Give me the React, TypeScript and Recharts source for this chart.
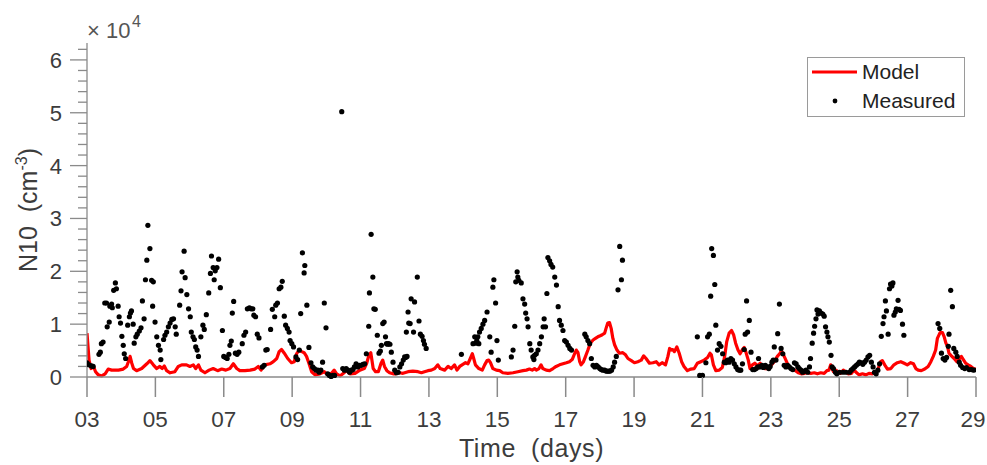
import React from 'react';
import { ComposedChart, Line, Scatter, XAxis, YAxis, Legend } from 'recharts';

// x: day of month, y: N10 in units of 10^4 cm^-3
const dayTicks = [3, 5, 7, 9, 11, 13, 15, 17, 19, 21, 23, 25, 27, 29];
const n10Ticks = [
  0, 0.2, 0.4, 0.6, 0.8, 1, 1.2, 1.4, 1.6, 1.8, 2, 2.2, 2.4, 2.6, 2.8, 3, 3.2,
  3.4, 3.6, 3.8, 4, 4.2, 4.4, 4.6, 4.8, 5, 5.2, 5.4, 5.6, 5.8, 6, 6.2,
];

const modelSeries: [number, number][] = [
  [3.0, 0.83], [3.06, 0.32], [3.12, 0.16], [3.19, 0.2], [3.25, 0.1], [3.33, 0.04], [3.43, 0.02], [3.53, 0.06],
  [3.62, 0.15], [3.72, 0.13], [3.92, 0.13], [4.06, 0.15], [4.16, 0.2], [4.21, 0.29], [4.26, 0.39], [4.31, 0.26],
  [4.36, 0.16], [4.45, 0.12], [4.6, 0.16], [4.75, 0.25], [4.84, 0.31], [4.94, 0.23], [5.04, 0.16], [5.13, 0.2],
  [5.2, 0.16], [5.26, 0.21], [5.33, 0.12], [5.43, 0.08], [5.57, 0.1], [5.67, 0.2], [5.77, 0.23], [5.91, 0.23],
  [6.01, 0.2], [6.11, 0.23], [6.18, 0.16], [6.26, 0.23], [6.33, 0.13], [6.45, 0.08], [6.57, 0.13], [6.69, 0.16],
  [6.82, 0.12], [6.94, 0.15], [7.06, 0.13], [7.18, 0.16], [7.28, 0.25], [7.38, 0.16], [7.47, 0.12], [7.62, 0.12],
  [7.77, 0.13], [7.91, 0.15], [8.01, 0.2], [8.09, 0.13], [8.2, 0.23], [8.35, 0.25], [8.45, 0.29], [8.55, 0.35],
  [8.62, 0.48], [8.69, 0.52], [8.77, 0.45], [8.87, 0.35], [8.98, 0.27], [9.06, 0.29], [9.13, 0.44], [9.2, 0.51],
  [9.28, 0.48], [9.35, 0.46], [9.42, 0.39], [9.49, 0.26], [9.57, 0.1], [9.67, 0.04], [9.81, 0.06], [9.94, 0.1],
  [10.04, 0.04], [10.15, 0.07], [10.23, 0.13], [10.3, 0.06], [10.4, 0.02], [10.5, 0.07], [10.59, 0.12], [10.69, 0.06],
  [10.84, 0.07], [10.98, 0.13], [11.11, 0.16], [11.18, 0.26], [11.25, 0.42], [11.3, 0.46], [11.37, 0.16], [11.44, 0.1],
  [11.52, 0.1], [11.6, 0.26], [11.65, 0.32], [11.7, 0.2], [11.77, 0.12], [11.85, 0.08], [11.95, 0.06], [12.04, 0.06],
  [12.14, 0.08], [12.24, 0.07], [12.39, 0.1], [12.53, 0.11], [12.68, 0.1], [12.78, 0.08], [12.87, 0.1], [12.97, 0.12],
  [13.07, 0.13], [13.17, 0.16], [13.26, 0.23], [13.33, 0.16], [13.46, 0.13], [13.56, 0.2], [13.65, 0.16], [13.75, 0.23],
  [13.82, 0.13], [13.9, 0.2], [13.97, 0.23], [14.07, 0.27], [14.14, 0.25], [14.21, 0.35], [14.27, 0.44], [14.31, 0.35],
  [14.36, 0.23], [14.46, 0.16], [14.56, 0.13], [14.63, 0.23], [14.7, 0.31], [14.75, 0.32], [14.8, 0.27], [14.87, 0.16],
  [14.97, 0.13], [15.07, 0.12], [15.16, 0.08], [15.31, 0.07], [15.46, 0.08], [15.6, 0.1], [15.75, 0.12], [15.85, 0.13],
  [15.94, 0.15], [16.02, 0.13], [16.09, 0.16], [16.14, 0.13], [16.22, 0.16], [16.28, 0.23], [16.33, 0.16], [16.43, 0.13],
  [16.53, 0.12], [16.63, 0.16], [16.72, 0.2], [16.82, 0.23], [16.92, 0.25], [17.02, 0.27], [17.11, 0.29], [17.19, 0.33],
  [17.26, 0.44], [17.31, 0.51], [17.36, 0.46], [17.41, 0.29], [17.45, 0.23], [17.52, 0.29], [17.58, 0.39], [17.65, 0.51],
  [17.72, 0.64], [17.8, 0.7], [17.87, 0.73], [17.94, 0.76], [18.01, 0.78], [18.07, 0.8], [18.14, 0.83], [18.18, 0.92],
  [18.23, 1.02], [18.28, 1.03], [18.33, 0.92], [18.38, 0.73], [18.43, 0.61], [18.5, 0.51], [18.57, 0.45], [18.67, 0.46],
  [18.75, 0.42], [18.82, 0.35], [18.92, 0.31], [19.01, 0.27], [19.11, 0.29], [19.21, 0.32], [19.28, 0.4], [19.35, 0.35],
  [19.45, 0.26], [19.55, 0.27], [19.65, 0.29], [19.73, 0.23], [19.82, 0.27], [19.92, 0.23], [19.99, 0.39], [20.04, 0.54],
  [20.09, 0.51], [20.13, 0.52], [20.18, 0.48], [20.25, 0.57], [20.32, 0.45], [20.39, 0.29], [20.46, 0.2], [20.56, 0.12],
  [20.66, 0.15], [20.76, 0.16], [20.85, 0.26], [20.95, 0.29], [21.05, 0.32], [21.15, 0.37], [21.22, 0.45], [21.26, 0.42],
  [21.32, 0.23], [21.39, 0.12], [21.49, 0.13], [21.58, 0.18], [21.65, 0.39], [21.71, 0.67], [21.78, 0.83], [21.85, 0.88],
  [21.91, 0.8], [21.97, 0.64], [22.04, 0.51], [22.1, 0.44], [22.17, 0.52], [22.22, 0.56], [22.27, 0.47], [22.34, 0.32],
  [22.39, 0.16], [22.46, 0.23], [22.53, 0.26], [22.61, 0.21], [22.69, 0.26], [22.75, 0.2], [22.82, 0.16], [22.9, 0.16],
  [22.99, 0.21], [23.1, 0.29], [23.19, 0.39], [23.27, 0.45], [23.31, 0.5], [23.37, 0.42], [23.44, 0.32], [23.5, 0.23],
  [23.6, 0.16], [23.7, 0.13], [23.8, 0.08], [23.89, 0.06], [23.99, 0.07], [24.07, 0.08], [24.17, 0.07], [24.27, 0.08],
  [24.36, 0.06], [24.46, 0.08], [24.56, 0.07], [24.64, 0.12], [24.7, 0.13], [24.75, 0.23], [24.83, 0.1], [24.9, 0.13],
  [24.97, 0.1], [25.04, 0.07], [25.12, 0.13], [25.19, 0.1], [25.26, 0.06], [25.36, 0.07], [25.43, 0.13], [25.51, 0.08],
  [25.58, 0.04], [25.68, 0.06], [25.78, 0.04], [25.87, 0.07], [25.97, 0.06], [26.07, 0.08], [26.14, 0.16], [26.21, 0.29],
  [26.26, 0.31], [26.33, 0.23], [26.41, 0.15], [26.51, 0.16], [26.6, 0.23], [26.7, 0.27], [26.8, 0.29], [26.9, 0.26],
  [26.99, 0.23], [27.09, 0.27], [27.17, 0.25], [27.24, 0.16], [27.31, 0.13], [27.4, 0.12], [27.5, 0.15], [27.6, 0.2],
  [27.68, 0.29], [27.75, 0.39], [27.82, 0.51], [27.87, 0.73], [27.95, 0.84], [28.02, 0.84], [28.07, 0.76], [28.12, 0.64],
  [28.17, 0.57], [28.21, 0.45], [28.28, 0.4], [28.36, 0.35], [28.44, 0.29], [28.5, 0.33], [28.57, 0.39], [28.63, 0.33],
  [28.7, 0.26], [28.77, 0.23], [28.85, 0.2], [28.92, 0.16], [28.99, 0.15],
];

const measuredSeries: [number, number][] = [
  [3.0, 0.27], [3.06, 0.23], [3.13, 0.21], [3.18, 0.2], [3.35, 0.43], [3.39, 0.47], [3.42, 0.63], [3.47, 0.66],
  [3.52, 1.4], [3.57, 1.4], [3.59, 0.95], [3.65, 1.04], [3.67, 1.34], [3.72, 1.38], [3.74, 1.31], [3.78, 1.64],
  [3.83, 1.78], [3.86, 1.67], [3.91, 1.34], [3.94, 1.14], [3.98, 1.02], [4.02, 0.77], [4.06, 0.6], [4.09, 0.44],
  [4.13, 0.35], [4.19, 0.98], [4.24, 1.14], [4.27, 1.21], [4.3, 1.25], [4.35, 1.0], [4.38, 0.64], [4.43, 0.76],
  [4.47, 0.81], [4.53, 0.87], [4.58, 0.93], [4.62, 1.44], [4.67, 1.1], [4.71, 1.84], [4.75, 2.21], [4.78, 2.87],
  [4.84, 2.43], [4.89, 1.83], [4.94, 1.8], [4.92, 1.34], [4.99, 1.04], [5.04, 0.76], [5.09, 0.6], [5.14, 0.51],
  [5.16, 0.33], [5.24, 0.71], [5.28, 0.79], [5.33, 0.85], [5.38, 0.95], [5.43, 1.02], [5.48, 1.09], [5.53, 1.1],
  [5.58, 0.95], [5.61, 0.81], [5.71, 1.36], [5.75, 1.63], [5.78, 1.99], [5.84, 2.38], [5.87, 1.88], [5.92, 1.56],
  [5.97, 1.29], [6.02, 1.14], [6.05, 0.85], [6.1, 0.76], [6.14, 0.71], [6.18, 0.57], [6.22, 0.51], [6.26, 0.39],
  [6.33, 0.76], [6.39, 0.98], [6.43, 0.9], [6.49, 1.18], [6.56, 1.59], [6.61, 1.96], [6.64, 2.29], [6.69, 2.07],
  [6.72, 1.84], [6.75, 2.01], [6.8, 2.07], [6.85, 2.23], [6.9, 1.69], [6.96, 0.88], [7.0, 0.39], [7.05, 0.37],
  [7.1, 0.35], [7.15, 0.43], [7.18, 0.6], [7.22, 0.68], [7.25, 1.21], [7.29, 1.43], [7.34, 0.45], [7.39, 0.43],
  [7.44, 0.47], [7.54, 0.63], [7.59, 0.79], [7.64, 0.85], [7.69, 1.29], [7.75, 1.31], [7.8, 1.29], [7.85, 1.29],
  [7.88, 1.17], [7.93, 1.14], [7.98, 0.81], [8.03, 0.74], [8.13, 0.19], [8.18, 0.22], [8.23, 0.51], [8.27, 0.52],
  [8.37, 0.9], [8.42, 1.28], [8.49, 1.14], [8.52, 1.36], [8.57, 1.4], [8.62, 1.67], [8.67, 1.7], [8.71, 1.81],
  [8.77, 1.15], [8.81, 0.98], [8.86, 0.92], [8.91, 0.85], [8.94, 0.69], [8.99, 0.63], [9.04, 0.57], [9.11, 0.38],
  [9.16, 0.33], [9.21, 0.51], [9.25, 1.2], [9.3, 2.35], [9.37, 2.11], [9.35, 1.97], [9.43, 1.36], [9.49, 0.56],
  [9.55, 0.27], [9.6, 0.19], [9.65, 0.16], [9.7, 0.13], [9.75, 0.13], [9.79, 0.09], [9.84, 0.13], [9.89, 0.28],
  [9.94, 1.4], [9.99, 0.93], [10.04, 0.06], [10.09, 0.03], [10.14, 0.01], [10.19, 0.03], [10.24, 0.03], [10.45, 5.02],
  [10.48, 0.16], [10.53, 0.13], [10.58, 0.16], [10.63, 0.13], [10.68, 0.09], [10.73, 0.13], [10.78, 0.14], [10.82, 0.19],
  [10.87, 0.25], [10.92, 0.19], [10.97, 0.22], [11.02, 0.22], [11.07, 0.24], [11.12, 0.25], [11.17, 0.44], [11.24, 0.96],
  [11.26, 1.59], [11.31, 2.7], [11.36, 1.89], [11.39, 1.29], [11.43, 1.28], [11.49, 0.79], [11.54, 0.45], [11.58, 0.49],
  [11.61, 0.6], [11.65, 1.01], [11.69, 1.04], [11.73, 0.76], [11.76, 0.63], [11.79, 0.62], [11.82, 0.63], [11.86, 0.62],
  [11.9, 0.47], [11.95, 0.28], [12.0, 0.13], [12.05, 0.08], [12.1, 0.09], [12.15, 0.19], [12.2, 0.25], [12.25, 0.32],
  [12.29, 0.38], [12.32, 0.37], [12.36, 0.39], [12.34, 0.85], [12.39, 1.23], [12.41, 1.02], [12.45, 1.01], [12.48, 1.48],
  [12.55, 0.85], [12.58, 1.42], [12.66, 1.89], [12.71, 1.06], [12.75, 0.81], [12.8, 0.77], [12.84, 0.69], [12.87, 0.62],
  [12.92, 0.54], [13.95, 0.43], [14.29, 0.63], [14.34, 0.76], [14.37, 0.64], [14.4, 0.69], [14.43, 0.76], [14.46, 0.63],
  [14.48, 0.85], [14.53, 0.92], [14.58, 1.0], [14.63, 1.07], [14.7, 1.23], [14.78, 0.76], [14.82, 0.47], [14.87, 1.7],
  [14.9, 1.84], [14.95, 1.4], [14.99, 0.69], [15.03, 0.32], [15.41, 0.38], [15.46, 0.51], [15.51, 0.96], [15.54, 1.8],
  [15.58, 1.99], [15.6, 1.89], [15.63, 1.83], [15.7, 1.78], [15.75, 1.48], [15.8, 1.38], [15.83, 1.21], [15.87, 1.1],
  [15.9, 0.95], [15.95, 0.63], [15.99, 0.51], [16.04, 0.38], [16.07, 0.33], [16.09, 0.41], [16.14, 0.44], [16.19, 0.51],
  [16.24, 0.63], [16.29, 0.76], [16.34, 0.95], [16.37, 1.1], [16.41, 0.95], [16.45, 1.58], [16.48, 2.26], [16.53, 2.2],
  [16.57, 2.13], [16.62, 2.08], [16.68, 1.89], [16.73, 1.74], [16.78, 1.33], [16.82, 1.07], [16.87, 0.98], [16.92, 0.88],
  [16.97, 0.69], [17.02, 0.66], [17.07, 0.6], [17.12, 0.54], [17.17, 0.51], [17.56, 0.81], [17.6, 0.76], [17.65, 0.69],
  [17.7, 0.63], [17.75, 0.35], [17.8, 0.22], [17.85, 0.19], [17.9, 0.22], [17.95, 0.19], [18.0, 0.16], [18.04, 0.14],
  [18.09, 0.13], [18.14, 0.13], [18.19, 0.11], [18.24, 0.11], [18.29, 0.11], [18.34, 0.13], [18.39, 0.19], [18.43, 0.28],
  [18.48, 0.39], [18.53, 1.65], [18.58, 2.47], [18.63, 1.84], [18.66, 2.21], [20.85, 0.76], [20.92, 0.03], [21.0, 0.03],
  [21.1, 0.27], [21.15, 0.76], [21.2, 0.81], [21.24, 1.53], [21.27, 2.43], [21.32, 2.3], [21.36, 1.75], [21.39, 0.98],
  [21.44, 0.51], [21.49, 0.63], [21.54, 0.58], [21.59, 0.44], [21.64, 0.28], [21.68, 0.27], [21.73, 0.32], [21.78, 0.28],
  [21.83, 0.35], [21.88, 0.32], [21.93, 0.25], [21.98, 0.19], [22.03, 0.14], [22.08, 0.13], [22.12, 0.13], [22.17, 0.25],
  [22.22, 0.52], [22.25, 0.81], [22.29, 1.44], [22.32, 0.85], [22.37, 1.07], [22.42, 0.47], [22.47, 0.14], [22.52, 0.14],
  [22.57, 0.16], [22.62, 0.19], [22.64, 0.35], [22.68, 0.19], [22.74, 0.22], [22.78, 0.18], [22.84, 0.22], [22.88, 0.19],
  [22.94, 0.16], [22.98, 0.2], [23.03, 0.28], [23.07, 0.32], [23.1, 0.57], [23.15, 0.32], [23.2, 0.82], [23.25, 1.38],
  [23.3, 0.54], [23.35, 0.44], [23.39, 0.22], [23.44, 0.19], [23.49, 0.22], [23.54, 0.19], [23.59, 0.16], [23.64, 0.14],
  [23.69, 0.27], [23.74, 0.25], [23.79, 0.19], [23.83, 0.16], [23.88, 0.13], [23.93, 0.09], [23.98, 0.11], [24.03, 0.13],
  [24.08, 0.09], [24.13, 0.19], [24.16, 0.35], [24.21, 0.64], [24.25, 0.83], [24.28, 0.96], [24.32, 1.1], [24.35, 1.27],
  [24.38, 1.19], [24.42, 1.25], [24.47, 1.21], [24.52, 1.19], [24.56, 1.15], [24.6, 0.95], [24.64, 0.85], [24.67, 0.76],
  [24.71, 0.66], [24.76, 0.41], [24.79, 0.19], [24.83, 0.16], [24.89, 0.09], [24.93, 0.06], [25.01, 0.09], [25.11, 0.09],
  [25.2, 0.09], [25.3, 0.09], [25.35, 0.13], [25.4, 0.16], [25.45, 0.19], [25.5, 0.22], [25.55, 0.25], [25.59, 0.28],
  [25.64, 0.27], [25.69, 0.24], [25.74, 0.28], [25.79, 0.32], [25.84, 0.38], [25.89, 0.41], [25.94, 0.28], [25.99, 0.19],
  [26.03, 0.09], [26.08, 0.06], [26.13, 0.13], [26.18, 0.25], [26.23, 0.77], [26.28, 1.01], [26.31, 1.14], [26.35, 1.44],
  [26.38, 1.25], [26.43, 0.81], [26.47, 1.67], [26.5, 1.76], [26.54, 1.72], [26.57, 1.78], [26.6, 1.17], [26.64, 1.23],
  [26.67, 1.29], [26.72, 1.45], [26.75, 1.28], [26.79, 1.26], [26.85, 1.0], [26.89, 0.79], [27.89, 1.01], [27.94, 0.92],
  [27.99, 0.45], [28.04, 0.35], [28.09, 0.32], [28.14, 0.37], [28.19, 0.58], [28.21, 0.81], [28.26, 1.64], [28.31, 1.33],
  [28.35, 0.54], [28.41, 0.47], [28.45, 0.39], [28.51, 0.28], [28.55, 0.22], [28.61, 0.18], [28.67, 0.16], [28.72, 0.18],
  [28.8, 0.14], [28.87, 0.14], [28.94, 0.13],
];

const modelData = modelSeries.map(([day, n10]) => ({ day, n10 }));
const measuredData = measuredSeries.map(([day, n10]) => ({ day, n10 }));

const AXIS = '#8a8a8a';
const TEXT = '#3c3c3c';
const FONT = '"Liberation Sans", Arial, Helvetica, sans-serif';

const isMajor = (v: number) => Math.abs(v - Math.round(v)) < 1e-6;

const LeftTick = ({ x, y, payload }: any) => {
  const major = isMajor(payload.value);
  return (
    <g>
      <line x1={x - (major ? 17 : 9)} x2={x} y1={y} y2={y} stroke={AXIS} strokeWidth={1.3} />
      {major && (
        <text x={x - 25} y={y} dy="0.36em" textAnchor="end" fontSize={22} fill={TEXT} fontFamily={FONT}>
          {Math.round(payload.value)}
        </text>
      )}
    </g>
  );
};

const RightTick = ({ x, y }: any) => (
  <line x1={x} x2={x + 9} y1={y} y2={y} stroke={AXIS} strokeWidth={1.3} />
);

const BottomTick = ({ x, y, payload }: any) => {
  // the last label sits on the window edge, nudge it in slightly
  const last = payload.value === dayTicks[dayTicks.length - 1];
  return (
    <g>
      <line x1={x} x2={x} y1={y} y2={y + 20} stroke={AXIS} strokeWidth={1.5} />
      <text x={last ? x - 3 : x} y={y + 50} textAnchor="middle" fontSize={22.5} fill={TEXT} fontFamily={FONT}>
        {String(payload.value).padStart(2, '0')}
      </text>
    </g>
  );
};

const TopTick = ({ x, y }: any) => (
  <line x1={x} x2={x} y1={y} y2={y + 3} stroke={AXIS} strokeWidth={1.3} />
);

const YTitle = ({ viewBox }: any) => {
  const cy = viewBox.y + viewBox.height / 2;
  return (
    <text
      x={37}
      y={cy}
      transform={`rotate(-90 37 ${cy})`}
      textAnchor="middle"
      fontSize={25}
      fill={TEXT}
      fontFamily={FONT}
      style={{ whiteSpace: 'pre' }}
    >
      {'N10  (cm'}
      <tspan fontSize={16} dy={-10}>-3</tspan>
      <tspan dy={10}>)</tspan>
    </text>
  );
};

const XTitle = ({ viewBox }: any) => (
  <text
    x={viewBox.x + viewBox.width / 2}
    y={457}
    textAnchor="middle"
    fontSize={25}
    letterSpacing={0.6}
    fill={TEXT}
    fontFamily={FONT}
    style={{ whiteSpace: 'pre' }}
  >
    {'Time  (days)'}
  </text>
);

const LegendBox = () => (
  <svg width={159} height={61} style={{ display: 'block' }}>
    <rect x={0.5} y={0.5} width={157} height={59} fill="#fff" stroke="#9a9a9a" strokeWidth={1} />
    <line x1={5} x2={50} y1={15} y2={15} stroke="#ff0000" strokeWidth={3} />
    <text x={55} y={22} fontSize={21} fill="#222" fontFamily={FONT}>Model</text>
    <circle cx={28} cy={44} r={2.4} fill="#000" />
    <text x={55} y={51} fontSize={21} fill="#222" fontFamily={FONT}>Measured</text>
  </svg>
);

const Dot = (props: any) => <circle cx={props.cx} cy={props.cy} r={2.6} fill="#000" />;

export default function App() {
  return (
    <div style={{ position: 'absolute', left: 0, top: 0, width: 987, height: 465, background: '#fff' }}>
      <ComposedChart width={987} height={465} margin={{ top: 43, right: 11, bottom: 58, left: 37 }}>
        <XAxis
          dataKey="day"
          type="number"
          domain={[3, 29]}
          ticks={dayTicks}
          interval={0}
          allowDataOverflow
          height={30}
          tickSize={0}
          tickMargin={0}
          tickLine={false}
          tick={<BottomTick />}
          axisLine={{ stroke: AXIS, strokeWidth: 1.5 }}
          label={<XTitle />}
        />
        <XAxis
          xAxisId="top"
          orientation="top"
          type="number"
          domain={[3, 29]}
          ticks={dayTicks}
          interval={0}
          height={0}
          tickSize={0}
          tickMargin={0}
          tickLine={false}
          tick={<TopTick />}
          axisLine={{ stroke: AXIS, strokeWidth: 1.3 }}
        />
        <YAxis
          type="number"
          domain={[0, 6.32]}
          ticks={n10Ticks}
          interval={0}
          width={50}
          tickSize={0}
          tickMargin={0}
          tickLine={false}
          tick={<LeftTick />}
          axisLine={{ stroke: AXIS, strokeWidth: 1.3 }}
          label={<YTitle />}
        />
        <YAxis
          yAxisId="right"
          orientation="right"
          type="number"
          domain={[0, 6.32]}
          ticks={n10Ticks}
          interval={0}
          width={0}
          tickSize={0}
          tickMargin={0}
          tickLine={false}
          tick={<RightTick />}
          axisLine={{ stroke: AXIS, strokeWidth: 1.3 }}
        />
        <Line
          data={modelData}
          dataKey="n10"
          name="Model"
          type="linear"
          stroke="#ff0000"
          strokeWidth={3.2}
          strokeLinejoin="round"
          dot={false}
          isAnimationActive={false}
        />
        <Scatter
          data={measuredData}
          dataKey="n10"
          name="Measured"
          fill="#000"
          shape={<Dot />}
          isAnimationActive={false}
        />
        <Legend
          layout="vertical"
          align="center"
          verticalAlign="middle"
          content={<LegendBox />}
          wrapperStyle={{ position: 'absolute', left: 807, top: 57, width: 159, height: 61 }}
        />
      </ComposedChart>
      <svg
        width={200}
        height={42}
        style={{ position: 'absolute', left: 0, top: 0, pointerEvents: 'none' }}
      >
        <text x={87} y={38} fontSize={22} fill="#555" fontFamily={FONT}>
          ×
          <tspan x={106}>10</tspan>
          <tspan x={132} y={27} fontSize={16}>4</tspan>
        </text>
      </svg>
    </div>
  );
}
